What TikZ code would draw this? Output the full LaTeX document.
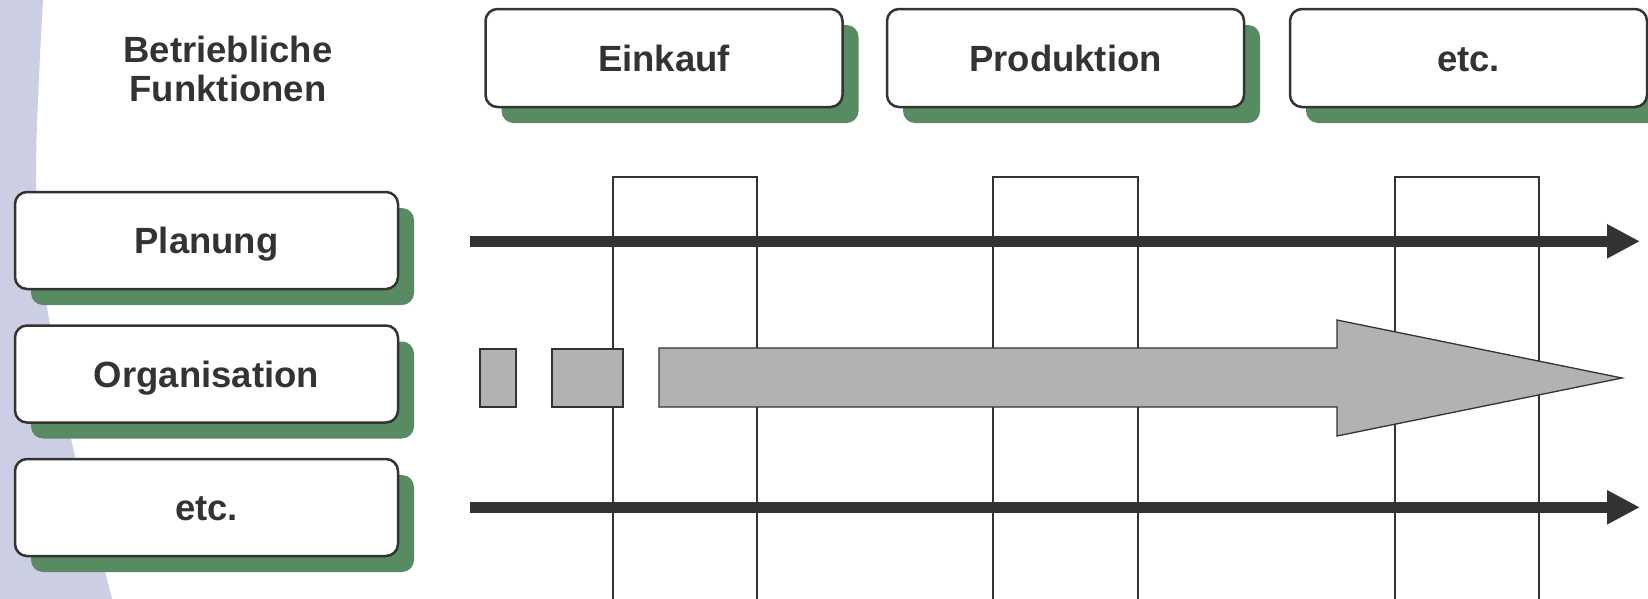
\documentclass[tikz,border=0pt]{standalone}
\usepackage{fontspec}
\setmainfont{Liberation Sans}
\usetikzlibrary{arrows.meta, shadows}
\definecolor{ink}{HTML}{333333}
\definecolor{leaf}{HTML}{588B62}
\definecolor{lilac}{HTML}{CCCFE3}
\definecolor{steel}{HTML}{B2B2B2}

\begin{document}
\begin{tikzpicture}[x=1pt, y=-1pt,
  txt/.style={font=\fontsize{36.5}{39}\selectfont\bfseries, text=ink},
  card/.style={txt, draw=ink, line width=2.5pt, fill=white, rounded corners=12pt,
    text height=26.1pt, text depth=0pt, inner sep=0pt,
    drop shadow={shadow xshift=16pt, shadow yshift=-16pt, fill=leaf, opacity=1}},
  rowcard/.style={card, minimum width=383pt, minimum height=97pt},
  colcard/.style={card, minimum width=357pt, minimum height=98pt},
  colline/.style={draw=ink, line width=2.4pt},
  bigarrow/.style={draw=ink, line width=10.6pt, -{Triangle[length=33pt, width=32pt]}},
  flowpart/.style={draw=ink, line width=1.3pt, fill=steel},
]
\useasboundingbox (0,0) rectangle (1648,598);
\clip (0,0) rectangle (1648,598);

% lilac backdrop on the left edge
\fill[lilac] (0,-5) -- plot[smooth, tension=0.6] coordinates
  {(44,-5) (43,0) (38,100) (36,180) (40,250) (48,313) (72,443) (112,598) (115,610)}
  -- (0,610) -- cycle;

% column frames below the function headers
\foreach \l/\r in {613/757, 993/1138, 1395/1539}
  \draw[colline] (\l,610) -- (\l,177) -- (\r,177) -- (\r,610);

% continuous process arrows
\coordinate (p1) at (470,241.3);
\coordinate (p2) at (1640,241.3);
\coordinate (e1) at (470,507.3);
\coordinate (e2) at (1640,507.3);
\draw[bigarrow] (p1) -- (p2);
\draw[bigarrow] (e1) -- (e2);

% organisation: broken start growing into a wide arrow
\draw[flowpart] (480,349) rectangle (516,407);
\draw[flowpart] (552,349) rectangle (623,407);
\draw[flowpart] (659,348) -- (1337,348) -- (1337,320) -- (1622,378)
  -- (1337,436) -- (1337,407) -- (659,407) -- cycle;

% header of the row labels
\node[txt, align=center, inner sep=0pt] (heading) at (228,68.5) {Betriebliche\\Funktionen};

% function headers
\node[colcard] (einkauf) at (664,58) {Einkauf};
\node[colcard] (produktion) at (1065.5,58) {Produktion};
\node[colcard] (etccol) at (1468.5,58) {etc.};

% management rows
\node[rowcard] (planung) at (206.5,240.5) {Planung};
\node[rowcard] (organisation) at (206.5,374) {Organisation};
\node[rowcard] (etcrow) at (206.5,507.5) {etc.};
\end{tikzpicture}
\end{document}
